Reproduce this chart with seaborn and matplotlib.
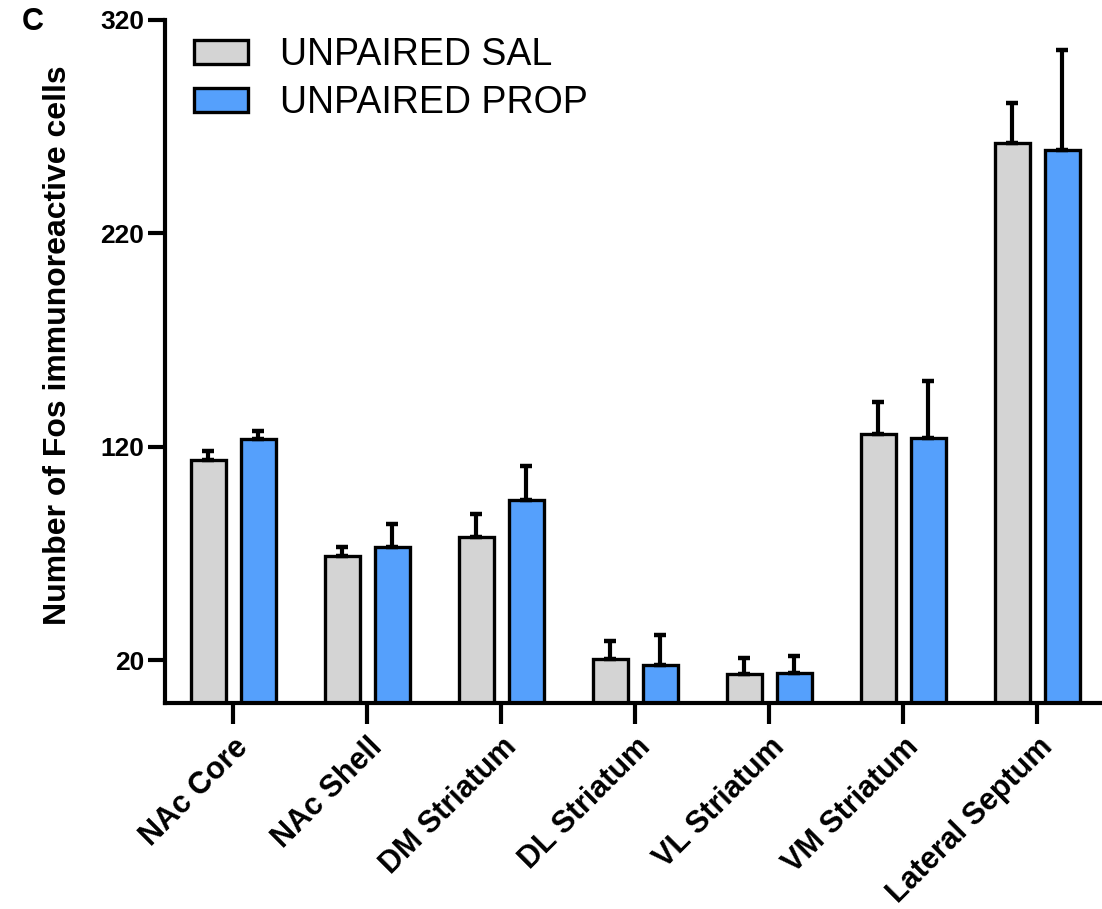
import numpy as np
import pandas as pd
import matplotlib
matplotlib.use("Agg")
import matplotlib.pyplot as plt
import seaborn as sns

regions = ["NAc Core", "NAc Shell", "DM Striatum", "DL Striatum",
           "VL Striatum", "VM Striatum", "Lateral Septum"]
groups = ["UNPAIRED SAL", "UNPAIRED PROP"]
sal_mean = [114, 69, 78, 20.5, 13.5, 126, 262.5]
sal_err = [4, 4, 10.5, 8.5, 7.5, 15, 18.5]
prop_mean = [123.5, 73, 95, 18, 14, 124, 259]
prop_err = [4, 11, 16, 14, 8, 27, 47]
yticks = [20, 120, 220, 320]

colors = {"UNPAIRED SAL": "#d4d4d4", "UNPAIRED PROP": "#55a0fc"}

df = pd.DataFrame({
    "region": regions * 2,
    "group": [groups[0]] * len(regions) + [groups[1]] * len(regions),
    "value": sal_mean + prop_mean,
})

sns.set_style("ticks")
plt.rcParams['font.family'] = ['Liberation Sans', 'DejaVu Sans']
plt.rcParams['text.color'] = 'black'
plt.rcParams['axes.labelcolor'] = 'black'
plt.rcParams['xtick.color'] = 'black'
plt.rcParams['ytick.color'] = 'black'
plt.rcParams['axes.edgecolor'] = 'black'

fig = plt.figure(figsize=(11.02, 9.09), dpi=100)
ax = fig.add_axes([0.1497, 0.2266, 0.850, 0.7514])

sns.barplot(data=df, x="region", y="value", hue="group", order=regions,
            hue_order=groups, palette=colors, saturation=1, width=0.75, gap=0.31,
            edgecolor="black", linewidth=2.4, errorbar=None, ax=ax, legend=True)

errs = [sal_err, prop_err]
means = [sal_mean, prop_mean]
for cont, m, e in zip(ax.containers, means, errs):
    xs = [p.get_x() + p.get_width() / 2 for p in cont.patches]
    ax.errorbar(xs, m, yerr=[np.zeros(len(e)), e], fmt="none",
                ecolor="black", elinewidth=3.0, capsize=4.5, capthick=3.2, zorder=1)

ax.set_ylim(0, 320)
ax.set_xlim(-0.51, 6.48)
ax.set_yticks(yticks)
ax.set_yticklabels([str(t) for t in yticks], fontsize=19, fontweight="bold")
ax.set_xticks(range(len(regions)))
ax.set_xticklabels(regions, rotation=45, ha="right", rotation_mode="anchor",
                   fontsize=22, fontweight="bold")
ax.set_xlabel("")
ax.set_ylabel("Number of Fos immunoreactive cells", fontsize=23, fontweight="bold")
ax.yaxis.set_label_coords(-0.098, 0.524)

for s in ["top", "right"]:
    ax.spines[s].set_visible(False)
for s in ["left", "bottom"]:
    ax.spines[s].set_linewidth(3)
ax.tick_params(axis="y", width=3, length=12, pad=3)
ax.tick_params(axis="x", width=3, length=15, pad=6)

handles, labels = ax.get_legend_handles_labels()
for h in handles:
    h.set_linewidth(2.4)
    h.set_edgecolor("black")
ax.legend(handles, labels, loc="upper left", bbox_to_anchor=(0.003, 1.013),
          frameon=False, fontsize=27, handlelength=1.45, handleheight=0.62,
          handletextpad=0.85, labelspacing=0.32, borderaxespad=0.3)

fig.text(0.020, 0.976, "C", fontsize=22, fontweight="bold", va="center")

fig.savefig("out.png", dpi=100)
